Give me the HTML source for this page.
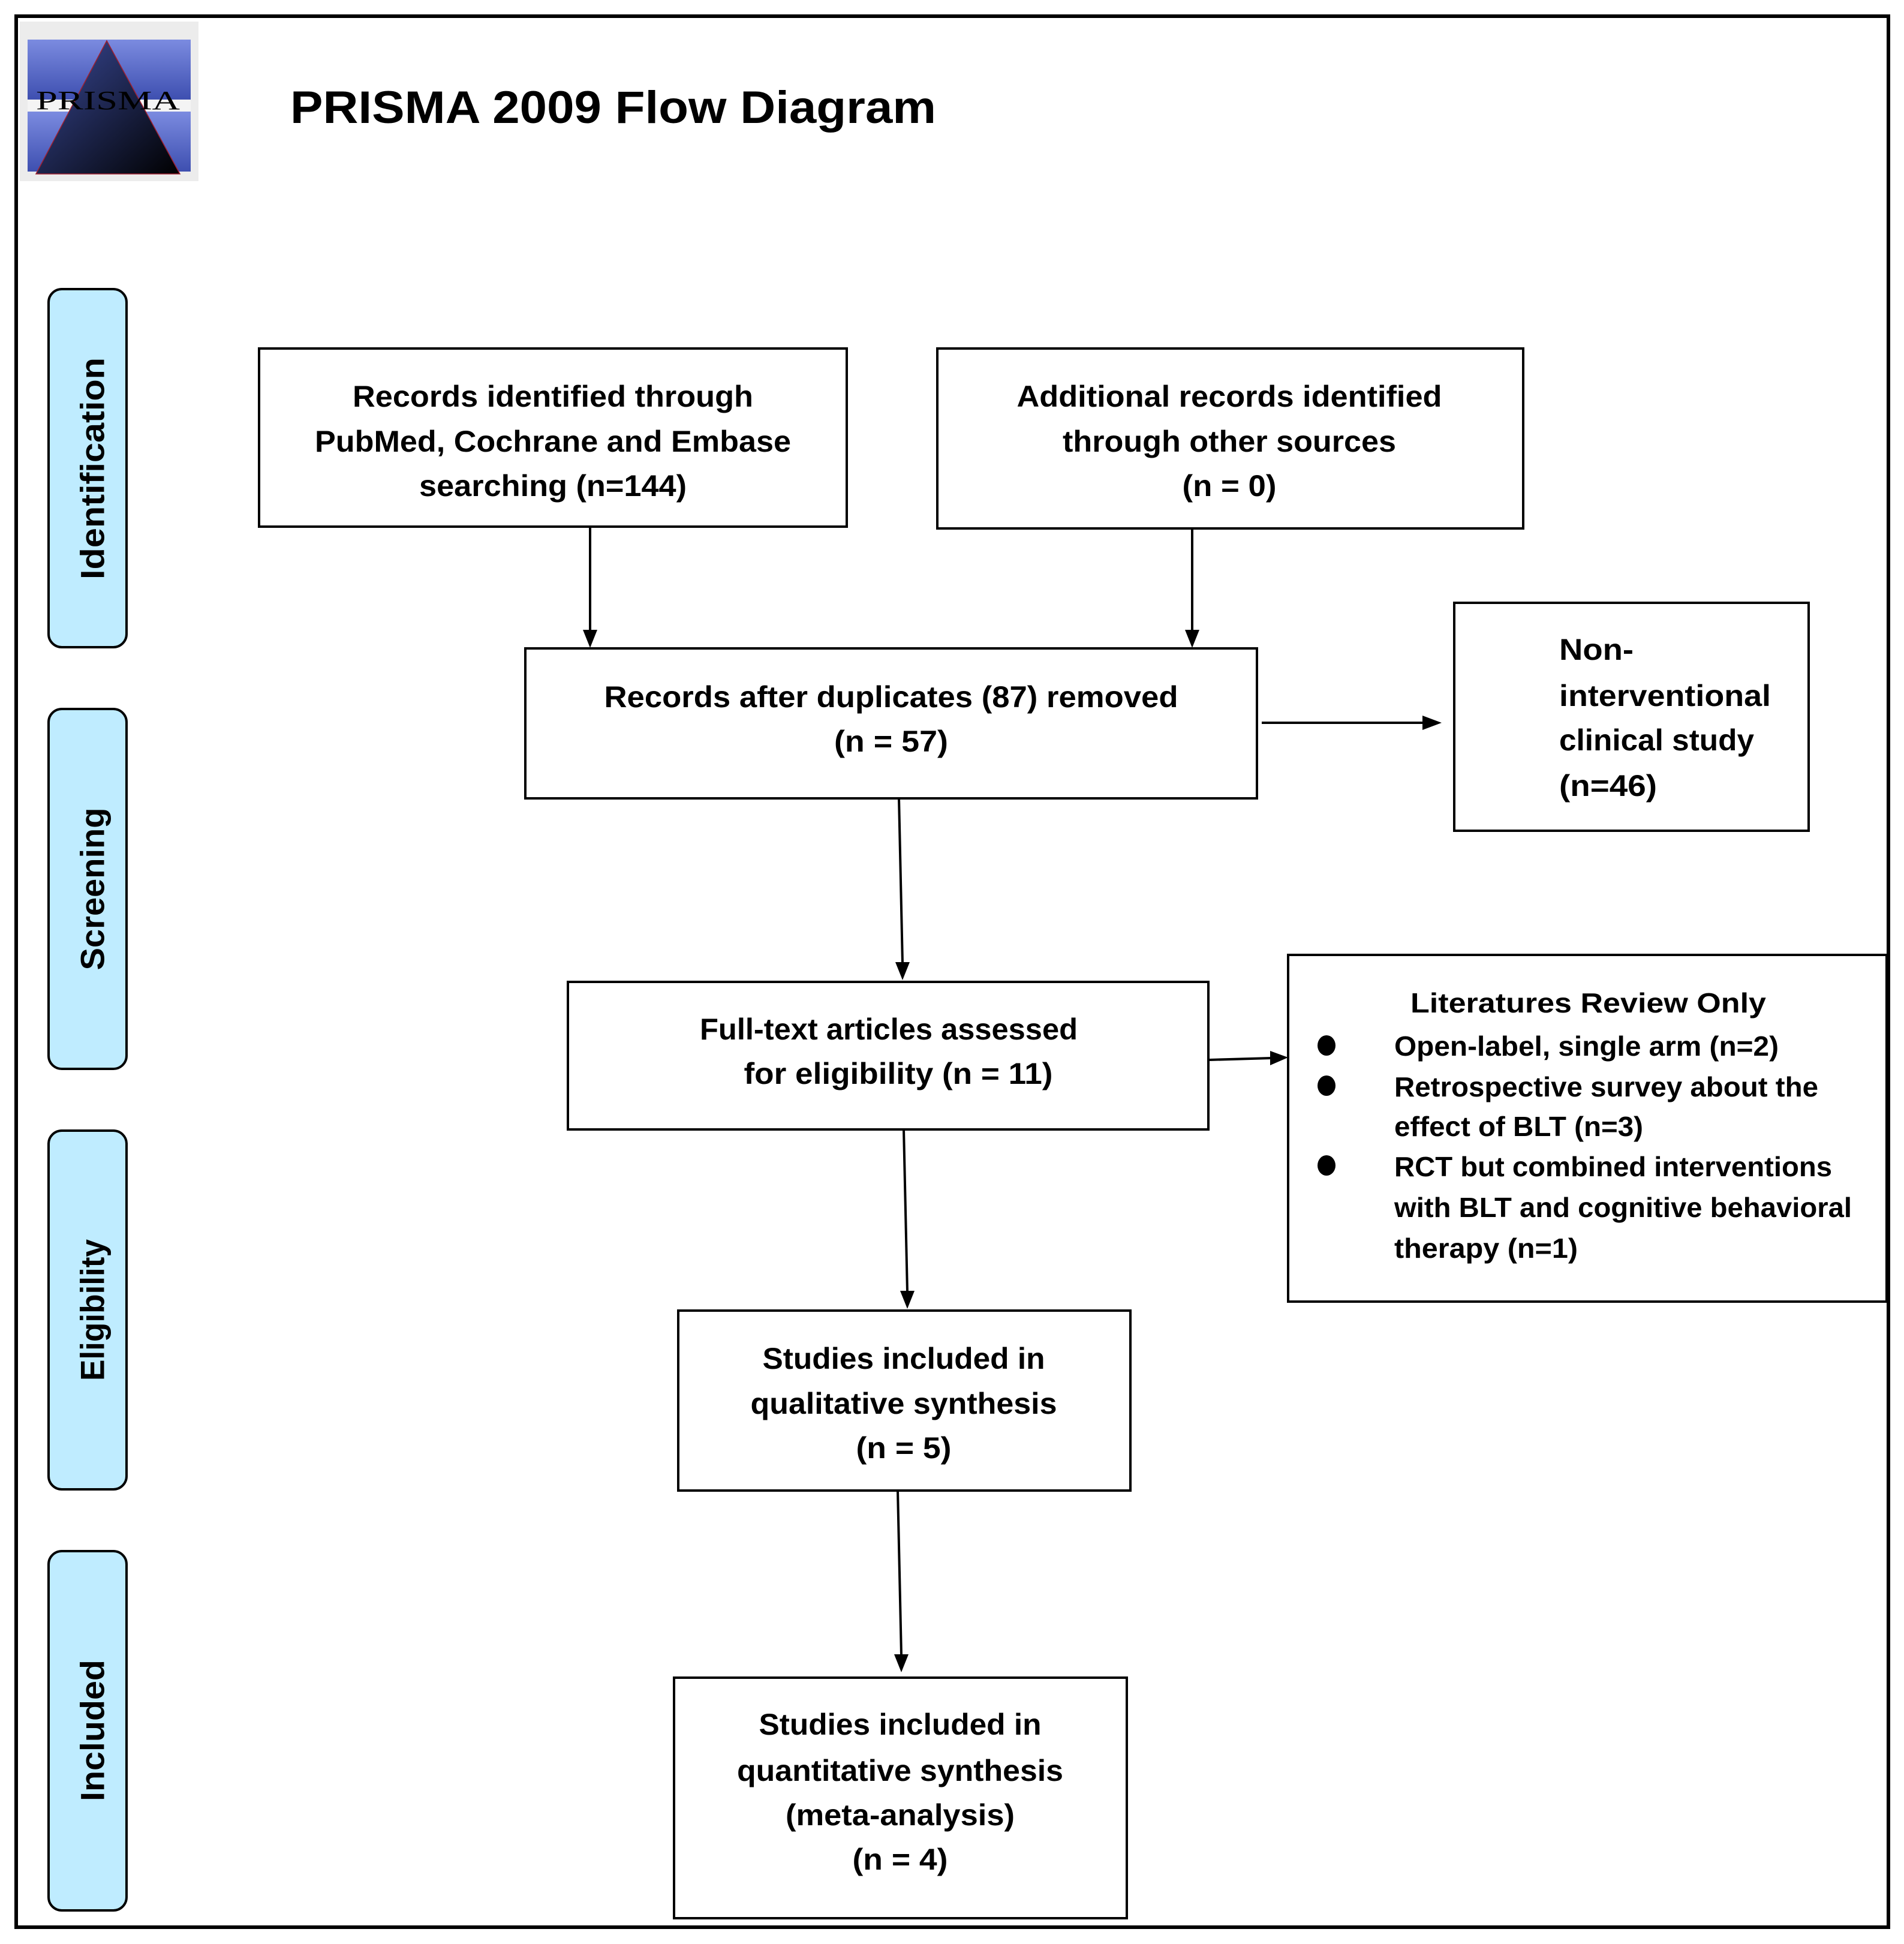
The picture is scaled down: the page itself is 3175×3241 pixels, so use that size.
<!DOCTYPE html>
<html><head><meta charset="utf-8"><style>
html,body{margin:0;padding:0;background:#fff}
svg{display:block}
text{font-family:"Liberation Sans",sans-serif;font-weight:bold;fill:#000}
</style></head><body>
<svg width="3175" height="3241" viewBox="0 0 3175 3241" xmlns="http://www.w3.org/2000/svg">
<defs>
<linearGradient id="bar" x1="0" y1="0" x2="0" y2="1"><stop offset="0" stop-color="#7b8be0"/><stop offset="1" stop-color="#3e4fb0"/></linearGradient>
<linearGradient id="tri" x1="0" y1="0" x2="1" y2="1"><stop offset="0" stop-color="#3a4a9a"/><stop offset="1" stop-color="#000"/></linearGradient>
</defs>
<rect x="0" y="0" width="3175" height="3241" fill="#fff"/>
<rect x="27" y="27" width="3122" height="3186" fill="none" stroke="#000" stroke-width="6"/>
<!-- logo -->
<rect x="33" y="36" width="298" height="266" fill="#ececec"/>
<rect x="46" y="66" width="272" height="100" fill="url(#bar)"/>
<rect x="46" y="186" width="272" height="100" fill="url(#bar)"/>
<rect x="46" y="166" width="272" height="20" fill="#f4f4f4"/>
<polygon points="178,68 60,290 300,290" fill="url(#tri)" stroke="#a02030" stroke-width="1.5"/>
<text x="60" y="182" font-size="44" style="font-weight:normal;font-family:'Liberation Serif',serif" fill="#7a88cc" textLength="240" lengthAdjust="spacingAndGlyphs">PRISMA</text>
<!-- title -->
<text x="484" y="205" font-size="76" textLength="1077" lengthAdjust="spacingAndGlyphs">PRISMA 2009 Flow Diagram</text>
<!-- side tabs -->
<g fill="#bfecff" stroke="#000" stroke-width="4">
<rect x="81" y="482" width="130" height="597" rx="22"/>
<rect x="81" y="1182" width="130" height="600" rx="22"/>
<rect x="81" y="1885" width="130" height="598" rx="22"/>
<rect x="81" y="2586" width="130" height="599" rx="22"/>
</g>
<g font-size="56" text-anchor="middle">
<text transform="translate(154,781) rotate(-90)" dominant-baseline="central" textLength="370" lengthAdjust="spacingAndGlyphs">Identification</text>
<text transform="translate(154,1482) rotate(-90)" dominant-baseline="central" textLength="271" lengthAdjust="spacingAndGlyphs">Screening</text>
<text transform="translate(154,2184) rotate(-90)" dominant-baseline="central" textLength="236" lengthAdjust="spacingAndGlyphs">Eligibility</text>
<text transform="translate(154,2885) rotate(-90)" dominant-baseline="central" textLength="236" lengthAdjust="spacingAndGlyphs">Included</text>
</g>
<!-- boxes -->
<g fill="none" stroke="#000" stroke-width="4">
<rect x="432" y="581" width="980" height="297"/>
<rect x="1563" y="581" width="977" height="300"/>
<rect x="876" y="1081" width="1220" height="250"/>
<rect x="2425" y="1005" width="591" height="380"/>
<rect x="947" y="1637" width="1068" height="246"/>
<rect x="2148" y="1592" width="998" height="578"/>
<rect x="1131" y="2185" width="754" height="300"/>
<rect x="1124" y="2797" width="755" height="401"/>
</g>
<!-- arrows -->
<g stroke="#000" stroke-width="4">
<line x1="984" y1="878" x2="984" y2="1052"/>
<line x1="1988" y1="881" x2="1988" y2="1052"/>
<line x1="2104" y1="1205" x2="2375" y2="1205"/>
<line x1="1499" y1="1331" x2="1505" y2="1606"/>
<line x1="2017" y1="1767" x2="2120" y2="1764"/>
<line x1="1507" y1="1883" x2="1513" y2="2154"/>
<line x1="1497" y1="2485" x2="1503" y2="2760"/>
</g>
<g fill="#000">
<polygon points="972,1050 996,1050 984,1080"/>
<polygon points="1976,1050 2000,1050 1988,1080"/>
<polygon points="2372,1193 2372,1217 2404,1205"/>
<polygon points="1493,1604 1517,1604 1505,1634"/>
<polygon points="2118,1752 2118,1776 2148,1763"/>
<polygon points="1501,2152 1525,2152 1513,2182"/>
<polygon points="1491,2758 1515,2758 1503,2788"/>
</g>
<!-- box text -->
<g font-size="50" text-anchor="middle" dominant-baseline="central">
<text x="922" y="661" textLength="668" lengthAdjust="spacingAndGlyphs">Records identified through</text>
<text x="922" y="736" textLength="794" lengthAdjust="spacingAndGlyphs">PubMed, Cochrane and Embase</text>
<text x="922" y="810" textLength="446" lengthAdjust="spacingAndGlyphs">searching (n=144)</text>
<text x="2050" y="661" textLength="709" lengthAdjust="spacingAndGlyphs">Additional records identified</text>
<text x="2050" y="736" textLength="556" lengthAdjust="spacingAndGlyphs">through other sources</text>
<text x="2050" y="810" textLength="157" lengthAdjust="spacingAndGlyphs">(n = 0)</text>
<text x="1486" y="1162" textLength="957" lengthAdjust="spacingAndGlyphs">Records after duplicates (87) removed</text>
<text x="1486" y="1236" textLength="190" lengthAdjust="spacingAndGlyphs">(n = 57)</text>
<text x="1482" y="1716" textLength="630" lengthAdjust="spacingAndGlyphs">Full-text articles assessed</text>
<text x="1498" y="1790" textLength="515" lengthAdjust="spacingAndGlyphs">for eligibility (n = 11)</text>
<text x="1507" y="2265" textLength="471" lengthAdjust="spacingAndGlyphs">Studies included in</text>
<text x="1507" y="2340" textLength="511" lengthAdjust="spacingAndGlyphs">qualitative synthesis</text>
<text x="1507" y="2414" textLength="159" lengthAdjust="spacingAndGlyphs">(n = 5)</text>
<text x="1501" y="2875" textLength="471" lengthAdjust="spacingAndGlyphs">Studies included in</text>
<text x="1501" y="2952" textLength="544" lengthAdjust="spacingAndGlyphs">quantitative synthesis</text>
<text x="1501" y="3026" textLength="382" lengthAdjust="spacingAndGlyphs">(meta-analysis)</text>
<text x="1501" y="3100" textLength="159" lengthAdjust="spacingAndGlyphs">(n = 4)</text>
</g>
<g font-size="50" dominant-baseline="central">
<text x="2600" y="1083" textLength="124" lengthAdjust="spacingAndGlyphs">Non-</text>
<text x="2600" y="1160" textLength="353" lengthAdjust="spacingAndGlyphs">interventional</text>
<text x="2600" y="1234" textLength="325" lengthAdjust="spacingAndGlyphs">clinical study</text>
<text x="2600" y="1310" textLength="163" lengthAdjust="spacingAndGlyphs">(n=46)</text>
</g>
<g font-size="46" dominant-baseline="central">
<text x="2352" y="1672" textLength="593" lengthAdjust="spacingAndGlyphs">Literatures Review Only</text>
<text x="2325" y="1744" textLength="641" lengthAdjust="spacingAndGlyphs">Open-label, single arm (n=2)</text>
<text x="2325" y="1812" textLength="707" lengthAdjust="spacingAndGlyphs">Retrospective survey about the</text>
<text x="2325" y="1878" textLength="415" lengthAdjust="spacingAndGlyphs">effect of BLT (n=3)</text>
<text x="2325" y="1945" textLength="730" lengthAdjust="spacingAndGlyphs">RCT but combined interventions</text>
<text x="2325" y="2013" textLength="763" lengthAdjust="spacingAndGlyphs">with BLT and cognitive behavioral</text>
<text x="2325" y="2081" textLength="306" lengthAdjust="spacingAndGlyphs">therapy (n=1)</text>
</g>
<g fill="#000">
<ellipse cx="2212" cy="1743" rx="15" ry="17"/>
<ellipse cx="2212" cy="1810" rx="15" ry="17"/>
<ellipse cx="2212" cy="1943" rx="15" ry="17"/>
</g>
</svg>
</body></html>
